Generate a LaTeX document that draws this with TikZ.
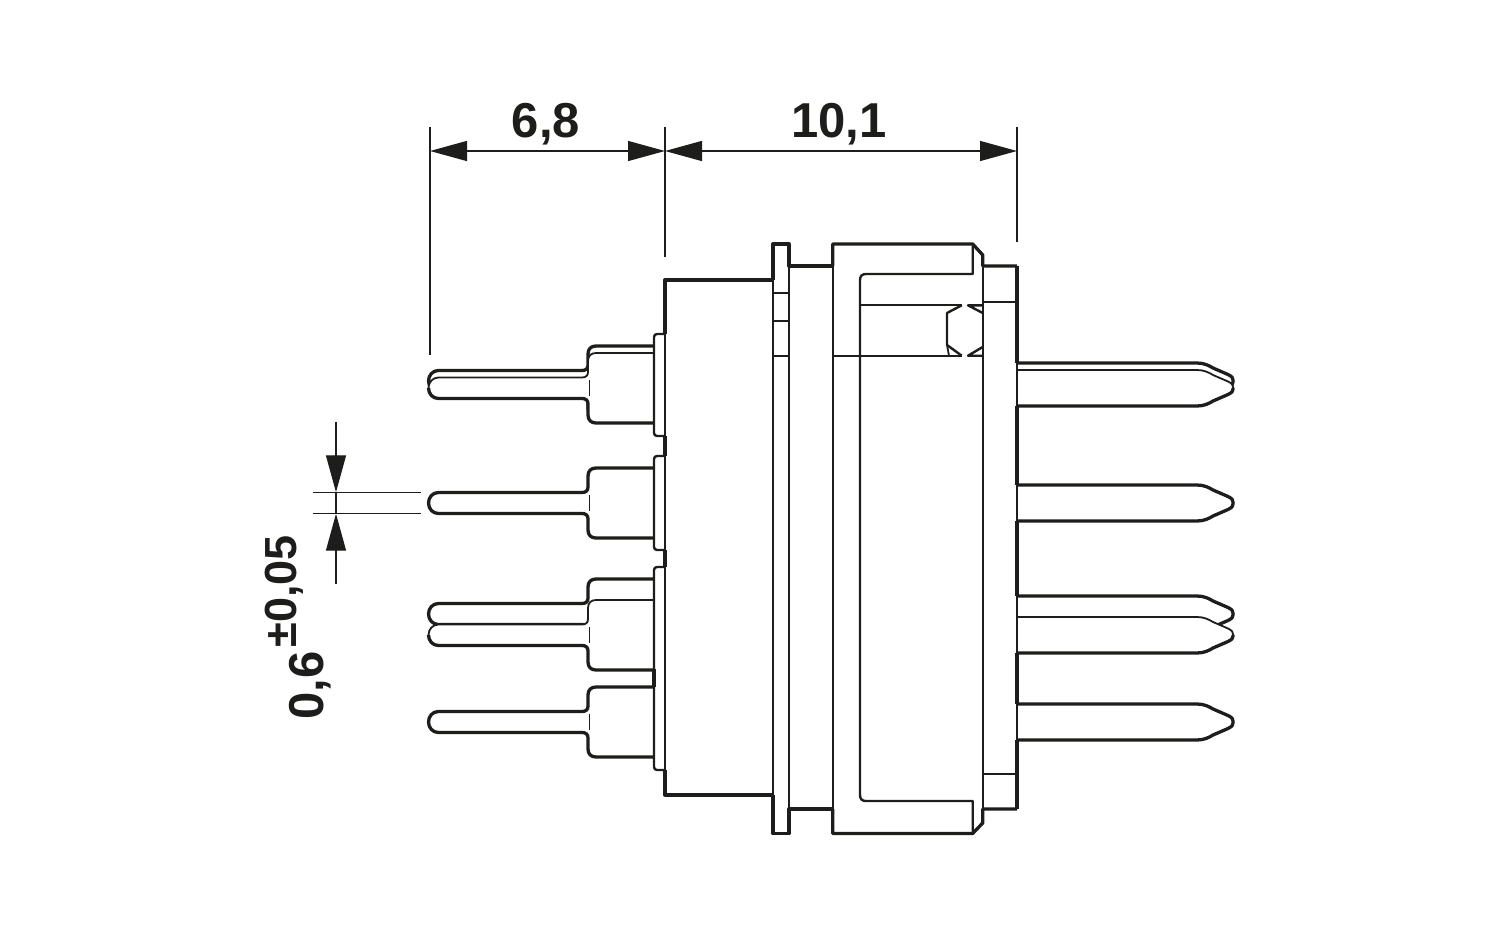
\documentclass[tikz,border=0pt]{standalone}
\usepackage{fontspec}
\setmainfont{Liberation Sans}
\usetikzlibrary{arrows.meta}
\definecolor{ink}{HTML}{1D1D1B}
\tikzset{
  outline/.style={ink, line width=3.3pt, line join=round},
  partline/.style={ink, line width=1.8pt},
  midline/.style={ink, line width=2.4pt, line join=round},
  dimline/.style={ink, line width=1.3pt},
  dimtip/.tip={Triangle[length=37pt, width=20pt]},
  dimtext/.style={font=\fontsize{49}{49}\selectfont\bfseries, text=ink, inner sep=0pt},
  tolerance/.style={font=\fontsize{45}{45}\selectfont\bfseries, text=ink, inner sep=0pt},
}
% half of a solder pin: #1 centre line, #2 = -1 upper, 1 lower
\newcommand{\leftpath}[2]{(654,#1+#2*35) -- (596,#1+#2*35) .. controls (591,#1+#2*35) and (588,#1+#2*32) .. (588,#1+#2*27) -- (588,#1+#2*16) .. controls (588,#1+#2*12.5) and (586,#1+#2*10.5) .. (582,#1+#2*10.5) -- (438.5,#1+#2*10.5) .. controls (432.7,#1+#2*10.5) and (428.5,#1+#2*5.8) .. (428.5,#1)}
\newcommand{\rightpath}[2]{(1017,#1+#2*18) -- (1197,#1+#2*18) .. controls (1204,#1+#2*18) and (1209,#1+#2*15.5) .. (1213,#1+#2*13) -- (1228,#1+#2*6.5) .. controls (1232,#1+#2*4.5) and (1233.3,#1+#2*3) .. (1233.3,#1)}
% #2 is the style of the upper edge
\newcommand{\leftpin}[2]{
  \fill[white] \leftpath{#1}{-1} -- (654,#1) -- cycle;
  \fill[white] \leftpath{#1}{1} -- (654,#1) -- cycle;
  \draw[#2] \leftpath{#1}{-1};
  \draw[outline] \leftpath{#1}{1};
  \draw[ink, line width=0.9pt] (589,#1-8) -- (589,#1+8);
}
\newcommand{\rightpin}[2]{
  \fill[white] \rightpath{#1}{-1} -- (1017,#1) -- cycle;
  \fill[white] \rightpath{#1}{1} -- (1017,#1) -- cycle;
  \draw[#2] \rightpath{#1}{-1};
  \draw[outline] \rightpath{#1}{1};
}
\begin{document}
\begin{tikzpicture}[x=1pt, y=-1pt]
\useasboundingbox (0,0) rectangle (1500,937);

% Left pins
\leftpin{381}{outline}
\leftpin{388}{partline}
\leftpin{503}{outline}
\leftpin{614}{outline}
\leftpin{635}{partline}
\leftpin{722}{outline}

% Right pins
\rightpin{381}{outline}
\rightpin{388}{partline}
\rightpin{503}{outline}
\rightpin{614}{outline}
\rightpin{635}{partline}
\rightpin{722}{outline}

% Small flanges
\draw[midline, rounded corners=3pt] (665,334) -- (654,334) -- (654,436) -- (665,436);
\draw[midline, rounded corners=3pt] (665,456) -- (654,456) -- (654,550) -- (665,550);
\draw[midline, rounded corners=3pt] (665,567) -- (654,567) -- (654,770) -- (665,770);
\draw[outline] (654,669) -- (654,687);

% Body
\draw[partline] (665,334) -- (665,770);
\draw[outline] (665,334) -- (665,280) -- (773,280);
\draw[outline] (665,436) -- (665,456);
\draw[outline] (665,550) -- (665,567);
\draw[outline] (665,770) -- (665,795) -- (773,795);

% Collar
\draw[partline] (773,280) -- (773,795);
\draw[partline] (789,266) -- (789,809);
\draw[outline] (773,280) -- (773,244) -- (789,244) -- (789,266) -- (832.7,266);
\draw[outline] (773,795) -- (773,833.5) -- (789,833.5) -- (789,809) -- (832.7,809);
\draw[partline] (773,293) -- (789,293);
\draw[partline] (773,320.7) -- (789,320.7);
\draw[partline] (773,355.7) -- (789,355.7);

% Threaded ring
\draw[partline] (832.7,266) -- (832.7,809);
\draw[outline] (832.7,266) -- (832.7,244) -- (972.7,244) -- (982.7,255) -- (982.7,266) -- (1017,266);
\draw[outline] (832.7,809) -- (832.7,833.5) -- (972.7,833.5) -- (982.7,823) -- (982.7,809) -- (1017,809);
\draw[midline] (972.7,244) -- (972.7,274) -- (866,274) .. controls (862,274) and (860,276) .. (860,280) -- (860,795) .. controls (860,799) and (862,801) .. (866,801) -- (972.7,801) -- (972.7,833.5);
\draw[partline] (982.7,266) -- (982.7,809);
\draw[partline] (982.7,301.7) -- (1017,301.7);
\draw[partline] (982.7,774) -- (1017,774);

% Sealing ring
\draw[partline] (860,305.3) -- (961.7,305.3);
\draw[partline] (832.7,355.7) -- (961.7,355.7);
\draw[midline] (961.7,305.3) -- (947,313) -- (947,345) -- (961.7,355.7);
\draw[partline] (947,345) -- (949,355.7);
\draw[midline] (982.7,305.3) -- (968,305.3) -- (982.7,313);
\draw[midline] (982.7,355.7) -- (968,355.7) -- (982.7,347);

% Rear face
\draw[partline] (1017,266) -- (1017,809);
\draw[outline] (1017,266) -- (1017,363);
\draw[outline] (1017,406) -- (1017,485);
\draw[outline] (1017,521) -- (1017,596);
\draw[outline] (1017,653) -- (1017,704);
\draw[outline] (1017,740) -- (1017,809);

% Dimensions on top
\coordinate (extA) at (430,127);
\coordinate (extB) at (665,127);
\coordinate (extC) at (1017,127);
\coordinate (dimA) at (430,151);
\coordinate (dimB) at (665,151);
\coordinate (dimC) at (1017,151);
\draw[dimline] (extA) -- (430,355);
\draw[dimline] (extB) -- (665,257);
\draw[dimline] (extC) -- (1017,242);
\draw[dimline, {dimtip}-{dimtip}] (dimA) -- (dimB);
\draw[dimline, {dimtip}-{dimtip}] (dimB) -- (dimC);
\node[dimtext, anchor=base] (lenpins) at (546,137) {6,8};
\node[dimtext, anchor=base] (lenbody) at (839,137) {10,1};

% Pin diameter
\coordinate (pinTop) at (336,492.3);
\coordinate (pinBot) at (336,513.7);
\coordinate (pinTopEnd) at (336,421.7);
\coordinate (pinBotEnd) at (336,584);
\draw[dimline] (312.7,492.3) -- (420.7,492.3);
\draw[dimline] (312.7,513.7) -- (420.7,513.7);
\draw[dimline] (pinTop) -- (pinBot);
\draw[dimline, -{dimtip}] (pinTopEnd) -- (pinTop);
\draw[dimline, -{dimtip}] (pinBotEnd) -- (pinBot);
\node[dimtext, rotate=90, anchor=base west] (pindia) at (323,719.5) {0,6};
\node[tolerance, rotate=90, anchor=base west] (pintol) at (296,647.5) {±0,05};
\end{tikzpicture}
\end{document}
